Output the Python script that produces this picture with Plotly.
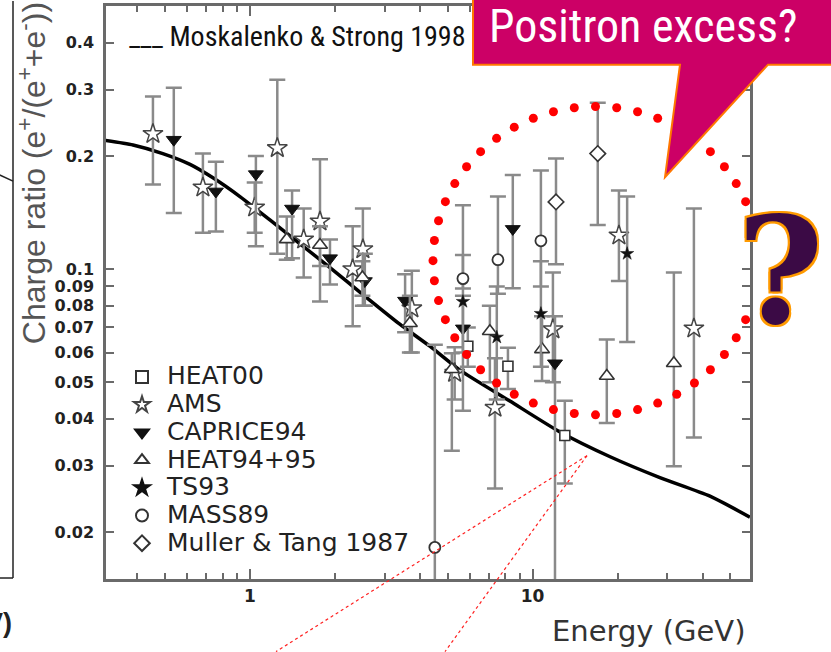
import numpy as np
import plotly.graph_objects as go

# ---------------- data ----------------
# Model curve: Moskalenko & Strong 1998
model_E = [0.309, 0.386, 0.492, 0.614, 0.740, 0.922, 1.18, 1.50, 1.92, 2.51, 3.39,
           4.33, 5.53, 8.31, 12.5, 18.8, 28.2, 42.4, 58.7]
model_R = [0.220, 0.214, 0.203, 0.190, 0.175, 0.156, 0.135, 0.117, 0.101, 0.0856, 0.0714,
           0.0624, 0.0539, 0.0446, 0.0369, 0.0317, 0.0279, 0.0249, 0.0219]

heat00_E = [5.90, 8.18, 13.0]
heat00_R = [0.0624, 0.0552, 0.0361]
heat00_hi = [0.070, 0.0618, 0.0447]
heat00_lo = [0.055, 0.048, 0.0269]

ams_E = [0.454, 0.682, 1.04, 1.25, 1.55, 1.77, 2.31, 2.51, 3.74, 5.3, 7.36, 11.8, 20.2, 37.2]
ams_R = [0.229, 0.165, 0.146, 0.210, 0.120, 0.134, 0.100, 0.113, 0.0787, 0.053, 0.0428, 0.0692, 0.123, 0.0696]
ams_hi = [0.288, 0.203, 0.170, 0.319, 0.145, 0.196, 0.130, 0.145, 0.099, 0.062, 0.058, 0.098, 0.162, 0.145]
ams_lo = [0.168, 0.125, 0.125, 0.110, 0.095, 0.082, 0.0705, 0.080, 0.060, 0.045, 0.0261, 0.050, 0.093, 0.0357]

cap_E = [0.538, 0.758, 1.05, 1.41, 1.92, 2.55, 3.54, 5.67, 8.51, 12.0]
cap_R = [0.221, 0.161, 0.179, 0.145, 0.107, 0.093, 0.0825, 0.0696, 0.128, 0.0562]
cap_hi = [0.304, 0.193, 0.200, 0.162, 0.120, 0.110, 0.097, 0.085, 0.178, 0.075]
cap_lo = [0.141, 0.126, 0.115, 0.107, 0.091, 0.080, 0.068, 0.042, 0.089, 0.012]

heat95_E = [1.35, 1.77, 2.5, 3.68, 5.18, 7.06, 10.8, 18.3, 31.6]
heat95_R = [0.120, 0.116, 0.095, 0.0718, 0.0542, 0.0684, 0.0612, 0.052, 0.0562]
heat95_hi = [0.138, 0.130, 0.105, 0.085, 0.0598, 0.080, 0.075, 0.065, 0.098]
heat95_lo = [0.106, 0.102, 0.085, 0.060, 0.0329, 0.050, 0.0504, 0.039, 0.0299]

ts93_E = [5.67, 7.47, 10.7, 21.6]
ts93_R = [0.082, 0.0659, 0.0762, 0.110]
ts93_hi = [0.109, 0.090, 0.105, 0.156]
ts93_lo = [0.060, 0.045, 0.055, 0.064]

mass_E = [4.51, 5.67, 7.54, 10.7]
mass_R = [0.0182, 0.0944, 0.106, 0.119]
mass_hi = [0.063, 0.148, 0.156, 0.183]
mass_lo = [0.010, 0.0888, 0.086, 0.090]

mt_E = [12.1, 17.0]
mt_R = [0.151, 0.203]
mt_hi = [0.197, 0.277]
mt_lo = [0.103, 0.131]

y_tickvals = [0.02, 0.03, 0.04, 0.05, 0.06, 0.07, 0.08, 0.09, 0.1, 0.2, 0.3, 0.4]
y_ticktext = ["0.02", "0.03", "0.04", "0.05", "0.06", "0.07", "0.08", "0.09", "0.1", "0.2", "0.3", "0.4"]
x_tickvals = [1, 10]
x_ticktext = ["1", "10"]
x_minor = [0.4, 0.5, 0.6, 0.7, 0.8, 0.9, 2, 3, 4, 5, 6, 7, 8, 9, 20, 30, 40, 50]

# ---------------- geometry ----------------
W, H = 831, 652
ML, MR, MT, MB = 106, 81, 3, 73
PW, PH = W - ML - MR, H - MT - MB
XR = [-0.509, 1.769]
YR = [-1.824, -0.300]


def pp(x, y):
    """pixel -> paper"""
    return (x - ML) / PW, (H - MB - y) / PH


def pdat(x, y):
    lx = XR[0] + (x - ML) / PW * (XR[1] - XR[0])
    ly = YR[1] - (y - MT) / PH * (YR[1] - YR[0])
    return 10 ** lx, 10 ** ly


ERR = dict(type="data", symmetric=False, color="#8a8a8a", thickness=2.5, width=8)


def series(name, E, R, hi, lo, marker):
    E, R, hi, lo = map(np.array, (E, R, hi, lo))
    return go.Scatter(
        x=E, y=R, mode="markers", name='<span style="font-size:25px">%s</span>' % name,
        marker=marker,
        error_y=dict(ERR, array=hi - R, arrayminus=R - lo),
    )


fig = go.Figure()
fig.add_trace(go.Scatter(x=model_E, y=model_R, mode="lines", showlegend=False,
                         line=dict(color="#000", width=3.5, shape="spline", smoothing=0.6)))
fig.add_trace(series("HEAT00", heat00_E, heat00_R, heat00_hi, heat00_lo,
                     dict(symbol="square", size=10, color="white", line=dict(color="#333", width=1.6))))
fig.add_trace(series("AMS", ams_E, ams_R, ams_hi, ams_lo,
                     dict(symbol="star", size=15, color="white", line=dict(color="#444", width=1.5))))
fig.add_trace(series("CAPRICE94", cap_E, cap_R, cap_hi, cap_lo,
                     dict(symbol="triangle-down", size=13, color="#111", line=dict(color="#111", width=1))))
fig.add_trace(series("HEAT94+95", heat95_E, heat95_R, heat95_hi, heat95_lo,
                     dict(symbol="triangle-up", size=13, color="white", line=dict(color="#333", width=1.6))))
fig.add_trace(series("TS93", ts93_E, ts93_R, ts93_hi, ts93_lo,
                     dict(symbol="star", size=10, color="#111", line=dict(color="#111", width=0.5))))
fig.add_trace(series("MASS89", mass_E, mass_R, mass_hi, mass_lo,
                     dict(symbol="circle", size=11, color="white", line=dict(color="#333", width=1.8))))
fig.add_trace(series("Muller &amp; Tang 1987", mt_E, mt_R, mt_hi, mt_lo,
                     dict(symbol="diamond", size=12, color="white", line=dict(color="#333", width=1.6))))

# red dotted ellipse (decoration)
cx, cy, rx, ry = 595.5, 259, 162.5, 155
n = 48
th = np.pi / 2 + np.arange(n) * 2 * np.pi / n
ex, ey = zip(*[pdat(cx + rx * np.cos(t), cy + ry * np.sin(t)) for t in th])
fig.add_trace(go.Scatter(x=ex, y=ey, mode="markers", showlegend=False, cliponaxis=False,
                         marker=dict(color="#ff0000", size=9, line=dict(width=0))))

axis_common = dict(showline=True, linecolor="#6a6a6a", linewidth=2.5, mirror="ticks",
                   ticks="inside", tickcolor="#6a6a6a", tickwidth=2, showgrid=False, zeroline=False)

fig.update_xaxes(type="log", range=XR, tickvals=x_tickvals, ticktext=x_ticktext, ticklen=10,
                 tickfont=dict(family="DejaVu Sans", size=17, color="#222", weight="bold"),
                 minor=dict(tickvals=x_minor, ticklen=6, ticks="inside", tickcolor="#6a6a6a", tickwidth=2),
                 **axis_common)
fig.update_yaxes(type="log", range=YR, tickvals=y_tickvals, ticktext=y_ticktext, ticklen=8,
                 ticklabelstandoff=6,
                 tickfont=dict(family="DejaVu Sans", size=16, color="#222", weight="bold"),
                 **axis_common)

shapes = []
# speech bubble
pts = [(473, -5), (836, -5), (836, 62), (768, 62), (665, 175), (680, 62), (473, 62)]
path = "M " + " L ".join("%f,%f" % pp(x, y) for x, y in pts) + " Z"
shapes.append(dict(type="path", xref="paper", yref="paper", path=path, fillcolor="#CC0066",
                   line=dict(color="#FF7700", width=2), layer="above"))
# thin red dotted pointer lines
for (x0, y0, x1, y1) in [(587, 455, 276, 652), (587, 455, 445, 652)]:
    a, b = pp(x0, y0)
    c, d = pp(x1, y1)
    shapes.append(dict(type="line", xref="paper", yref="paper", x0=a, y0=b, x1=c, y1=d,
                       line=dict(color="#ff2020", width=1.2, dash="dot"), layer="above"))
# left frame fragments
for (x0, y0, x1, y1) in [(13, -2, 13, 578), (-2, 578, 13, 578), (-2, 172, 13, 179)]:
    a, b = pp(x0, y0)
    c, d = pp(x1, y1)
    shapes.append(dict(type="line", xref="paper", yref="paper", x0=a, y0=b, x1=c, y1=d,
                       line=dict(color="#222", width=1.5), layer="above"))

ann = []


def A(text, x, y, **kw):
    px, py = pp(x, y)
    d = dict(text=text, x=px, y=py, xref="paper", yref="paper", showarrow=False)
    d.update(kw)
    ann.append(d)


A("Charge ratio (e<sup>+</sup>/(e<sup>+</sup>+e<sup>-</sup>))", 32, 171, textangle=-90,
  xanchor="center", yanchor="middle", font=dict(family="Liberation Sans", size=32, color="#555"))
A("___ Moskalenko &amp; Strong 1998", 127, 34, xanchor="left", yanchor="middle",
  font=dict(family="Roboto Condensed", size=28, color="#111"))
A("Positron excess?", 643, 23, xanchor="center", yanchor="middle",
  font=dict(family="Roboto Condensed", size=46, color="white"))
A("?", 781, 269, xanchor="center", yanchor="middle",
  font=dict(family="DejaVu Serif", size=148, color="#3b0a45", weight="bold",
            shadow="2px 2px 0 #ff9a00, -2px -2px 0 #ff9a00, 2px -2px 0 #ff9a00, -2px 2px 0 #ff9a00"))
A("Energy (GeV)", 748, 631, xanchor="right", yanchor="middle",
  font=dict(family="DejaVu Sans", size=29, color="#333"))
A("(GeV)", 14, 623, xanchor="right", yanchor="middle",
  font=dict(family="Liberation Sans", size=27, color="#222", weight="bold"))

lx, ly = pp(117, 357)
fig.update_layout(
    width=W, height=H, margin=dict(l=ML, r=MR, t=MT, b=MB, pad=0),
    paper_bgcolor="white", plot_bgcolor="white",
    shapes=shapes, annotations=ann,
    legend=dict(x=lx, y=ly, xanchor="left", yanchor="top", bgcolor="rgba(0,0,0,0)",
                font=dict(family="DejaVu Sans", size=19, color="#222"), itemwidth=40,
                itemsizing="constant"),
)

fig.write_html("out.html", post_script="document.body.style.margin='0';",
               config={"displayModeBar": False})
